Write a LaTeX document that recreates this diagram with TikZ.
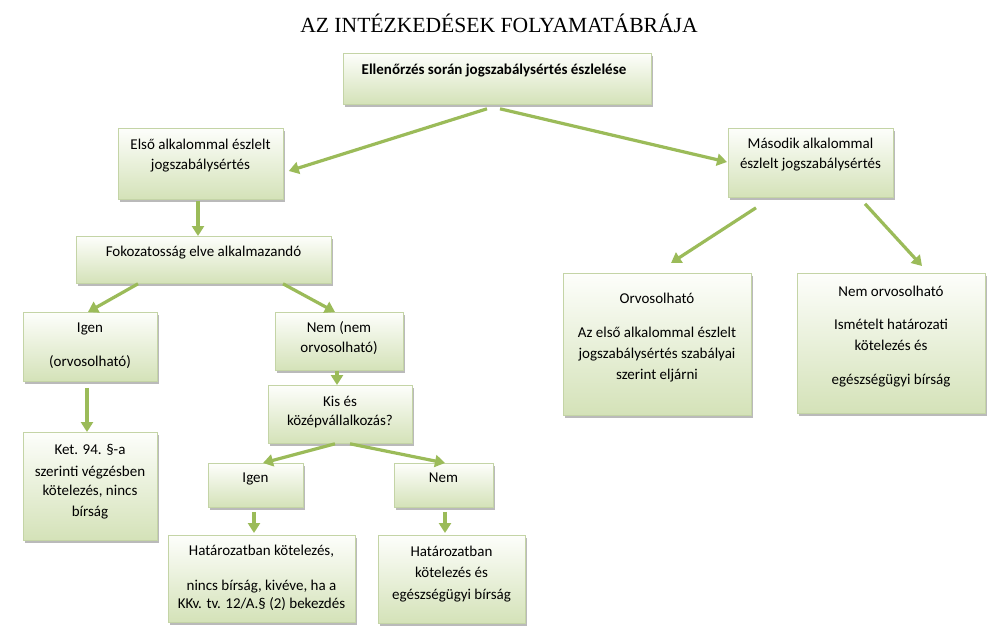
\documentclass[tikz,border=0pt]{standalone}
\usepackage{fontspec}
\setmainfont{Carlito}
\newfontfamily\titlefont{Liberation Serif}
\usetikzlibrary{arrows.meta,shadows,calc}
\definecolor{arrowgreen}{HTML}{9BBB59}
\definecolor{boxbottom}{HTML}{D4E2B8}
\definecolor{boxtop}{HTML}{FDFEFB}
\definecolor{boxline}{HTML}{C4D4A6}
\tikzset{
  box/.style={rectangle, draw=boxline, line width=0.8pt, top color=boxtop, bottom color=boxbottom,
    anchor=north west, inner sep=0pt,
    drop shadow={shadow xshift=2pt, shadow yshift=-2.5pt, fill=black!45, opacity=0.6}},
  txt/.style={anchor=base, inner sep=0pt, font=\fontsize{15}{18}\selectfont, text=black},
  conn/.style={draw=arrowgreen, line width=3.2pt, -{Triangle[length=10pt,width=12pt]}}
}
\newcommand{\mkbox}[5]{\node[box, minimum width=#4pt, minimum height=#5pt] (#1) at (#2,#3) {};}
\begin{document}
\begin{tikzpicture}[x=1pt,y=-1pt]
\useasboundingbox[fill=white] (0,0) rectangle (1005,640);

\node[anchor=base, inner sep=0pt, font=\titlefont\fontsize{21.6}{24}\selectfont] (title) at (499,32) {AZ INTÉZKEDÉSEK FOLYAMATÁBRÁJA};

% boxes
\mkbox{top}{343}{53}{308}{51}
\mkbox{A}{118}{128}{165}{71}
\mkbox{fok}{76}{236}{255}{47}
\mkbox{igen}{23}{312}{134}{69}
\mkbox{nem}{275}{312}{128}{58}
\mkbox{kis}{268}{385}{144}{58}
\mkbox{ket}{23}{432}{134}{108}
\mkbox{igenb}{208}{463}{95}{44}
\mkbox{nemb}{394}{463}{99}{44}
\mkbox{hata}{168}{535}{187}{87}
\mkbox{hatb}{378}{535}{147}{88}
\mkbox{mas}{728}{128}{165}{69}
\mkbox{orv}{563}{273}{188}{142}
\mkbox{nemorv}{797}{273}{188}{140}

% texts
\node[txt, font=\bfseries\fontsize{15}{18}\selectfont] (ttop) at (494,74) {Ellenőrzés során jogszabálysértés észlelése};
\node[txt] (tA1) at (200.5,149) {Első alkalommal észlelt};
\node[txt] (tA2) at (200.5,169) {jogszabálysértés};
\node[txt] (tfok) at (203.5,256) {Fokozatosság elve alkalmazandó};
\node[txt] (tigen1) at (90,332) {Igen};
\node[txt] (tigen2) at (90,366) {(orvosolható)};
\node[txt] (tnem1) at (339,332) {Nem (nem};
\node[txt] (tnem2) at (339,352) {orvosolható)};
\node[txt] (tkis1) at (340,406) {Kis és};
\node[txt] (tkis2) at (340,425) {középvállalkozás?};
\node[txt] (tket1) at (90,454) {Ket. 94. §-a};
\node[txt] (tket2) at (90,476) {szerinti végzésben};
\node[txt] (tket3) at (90,495) {kötelezés, nincs};
\node[txt] (tket4) at (90,516) {bírság};
\node[txt] (tigenb) at (255.5,482) {Igen};
\node[txt] (tnemb) at (443.5,482) {Nem};
\node[txt] (thata1) at (261.5,555) {Határozatban kötelezés,};
\node[txt] (thata2) at (261.5,590) {nincs bírság, kivéve, ha a};
\node[txt] (thata3) at (261.5,608) {KKv. tv. 12/A.§ (2) bekezdés};
\node[txt] (thatb1) at (451.5,556) {Határozatban};
\node[txt] (thatb2) at (451.5,577) {kötelezés és};
\node[txt] (thatb3) at (451.5,599) {egészségügyi bírság};
\node[txt] (tmas1) at (810.5,148) {Második alkalommal};
\node[txt] (tmas2) at (810.5,168) {észlelt jogszabálysértés};
\node[txt] (torv1) at (657,303) {Orvosolható};
\node[txt] (torv2) at (657,337) {Az első alkalommal észlelt};
\node[txt] (torv3) at (657,358) {jogszabálysértés szabályai};
\node[txt] (torv4) at (657,379) {szerint eljárni};
\node[txt] (tno1) at (891,296) {Nem orvosolható};
\node[txt] (tno2) at (891,329) {Ismételt határozati};
\node[txt] (tno3) at (891,350) {kötelezés és};
\node[txt] (tno4) at (891,384) {egészségügyi bírság};

% connectors
\draw[conn] ([shift={(144,4)}]top.south west) -- ([shift={(5,43)}]A.north east);
\draw[conn] ([shift={(157,4)}]top.south west) -- ([shift={(-1,34)}]mas.north west);
\draw[conn] ([shift={(80,1)}]A.south west) -- ([shift={(122,0)}]fok.north west);
\draw[conn] ([shift={(62,0)}]fok.south west) -- ([shift={(65,0)}]igen.north west);
\draw[conn] ([shift={(207,0)}]fok.south west) -- ([shift={(60,0)}]nem.north west);
\draw[conn] ([shift={(62,0)}]nem.south west) -- ([shift={(69,0)}]kis.north west);
\draw[conn] ([shift={(64,6)}]igen.south west) -- ([shift={(64,0)}]ket.north west);
\draw[conn] ([shift={(67,0)}]kis.south west) -- ([shift={(55,0)}]igenb.north west);
\draw[conn] ([shift={(82,0)}]kis.south west) -- ([shift={(51,0)}]nemb.north west);
\draw[conn] ([shift={(46,4)}]igenb.south west) -- ([shift={(86,-2)}]hata.north west);
\draw[conn] ([shift={(51,4)}]nemb.south west) -- ([shift={(67,-2)}]hatb.north west);
\draw[conn] ([shift={(28,10)}]mas.south west) -- ([shift={(108,-10)}]orv.north west);
\draw[conn] ([shift={(137,6)}]mas.south west) -- ([shift={(125,-7)}]nemorv.north west);
\end{tikzpicture}
\end{document}
